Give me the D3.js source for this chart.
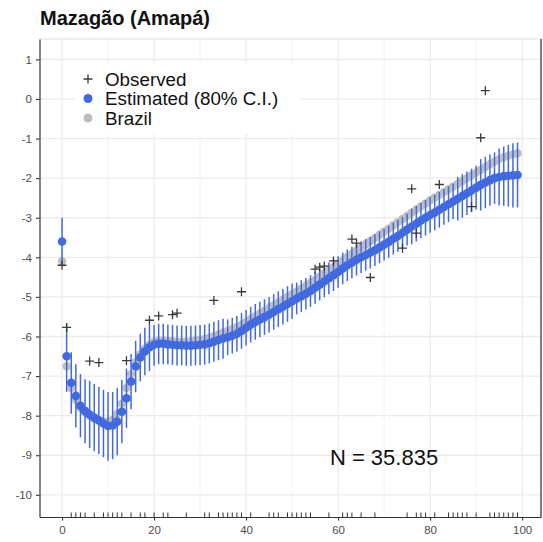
<!DOCTYPE html>
<html>
<head>
<meta charset="utf-8">
<script src="https://cdn.jsdelivr.net/npm/d3@7"></script>
<style>
  html, body { margin: 0; padding: 0; background: #fff; }
  svg { display: block; font-family: "Liberation Sans", Arial, Helvetica, sans-serif; }
</style>
</head>
<body>
<svg id="chart" width="543" height="542"></svg>
<script>
// ---------------- data ----------------
const title = "Mazagão (Amapá)";
const legendLabels = ["Observed", "Estimated (80% C.I.)", "Brazil"];
const annotation = "N = 35.835";

const xTicks = [0, 20, 40, 60, 80, 100];
const xMinorTicks = [10, 30, 50, 70, 90];
const yTicks = [1, 0, -1, -2, -3, -4, -5, -6, -7, -8, -9, -10];

const ages = d3.range(0, 100);

const estimated = [
  -3.60, -6.50, -7.17, -7.50, -7.75, -7.88, -7.97, -8.05, -8.12, -8.20,
  -8.26, -8.25, -8.15, -7.90, -7.56, -7.14, -6.76, -6.53, -6.38, -6.27,
  -6.21, -6.18, -6.18, -6.20, -6.21, -6.22, -6.22, -6.23, -6.23, -6.22,
  -6.21, -6.20, -6.17, -6.13, -6.09, -6.05, -6.02, -5.98, -5.93, -5.86,
  -5.78, -5.70, -5.63, -5.57, -5.51, -5.45, -5.38, -5.31, -5.25, -5.18,
  -5.11, -5.04, -4.98, -4.92, -4.85, -4.77, -4.69, -4.61, -4.53, -4.45,
  -4.37, -4.28, -4.20, -4.13, -4.06, -4.00, -3.94, -3.88, -3.82, -3.75,
  -3.68, -3.61, -3.53, -3.46, -3.38, -3.30, -3.22, -3.15, -3.07, -3.00,
  -2.93, -2.87, -2.80, -2.73, -2.66, -2.59, -2.52, -2.45, -2.38, -2.31,
  -2.24, -2.17, -2.11, -2.05, -2.00, -1.97, -1.95, -1.94, -1.93, -1.92
];

const estUpper = [
  -3.00, -5.70, -6.40, -6.70, -6.95, -7.08, -7.12, -7.20, -7.27, -7.35,
  -7.40, -7.40, -7.30, -7.10, -6.81, -6.44, -6.11, -5.93, -5.78, -5.70,
  -5.71, -5.68, -5.68, -5.70, -5.71, -5.72, -5.72, -5.73, -5.73, -5.72,
  -5.71, -5.70, -5.67, -5.63, -5.59, -5.55, -5.57, -5.53, -5.48, -5.41,
  -5.33, -5.25, -5.18, -5.12, -5.06, -5.00, -4.93, -4.86, -4.80, -4.73,
  -4.66, -4.64, -4.58, -4.52, -4.45, -4.37, -4.29, -4.21, -4.13, -4.05,
  -3.97, -3.88, -3.80, -3.73, -3.66, -3.60, -3.54, -3.48, -3.42, -3.35,
  -3.28, -3.21, -3.13, -3.06, -2.98, -2.90, -2.77, -2.70, -2.62, -2.55,
  -2.48, -2.42, -2.35, -2.28, -2.21, -2.14, -1.97, -1.90, -1.83, -1.76,
  -1.69, -1.52, -1.46, -1.40, -1.35, -1.25, -1.20, -1.16, -1.12, -1.10
];

const estLower = [
  -4.20, -7.40, -7.95, -8.30, -8.55, -8.70, -8.82, -8.90, -8.97, -9.05,
  -9.14, -9.10, -9.00, -8.70, -8.31, -7.84, -7.41, -7.13, -6.98, -6.87,
  -6.74, -6.70, -6.70, -6.71, -6.72, -6.73, -6.73, -6.74, -6.74, -6.73,
  -6.72, -6.71, -6.68, -6.64, -6.60, -6.56, -6.47, -6.43, -6.38, -6.31,
  -6.23, -6.15, -6.08, -6.02, -5.96, -5.90, -5.83, -5.76, -5.70, -5.63,
  -5.56, -5.44, -5.38, -5.32, -5.25, -5.17, -5.09, -5.01, -4.93, -4.85,
  -4.77, -4.68, -4.60, -4.53, -4.46, -4.40, -4.34, -4.28, -4.22, -4.15,
  -4.08, -4.01, -3.93, -3.86, -3.78, -3.70, -3.67, -3.60, -3.52, -3.45,
  -3.38, -3.32, -3.25, -3.18, -3.11, -3.04, -3.07, -3.00, -2.93, -2.86,
  -2.79, -2.82, -2.76, -2.70, -2.65, -2.69, -2.70, -2.72, -2.74, -2.74
];

const brazil = [
  -4.10, -6.75, -7.30, -7.60, -7.80, -7.92, -8.00, -8.07, -8.12, -8.15,
  -8.15, -8.10, -7.95, -7.70, -7.30, -6.95, -6.65, -6.45, -6.30, -6.20,
  -6.13, -6.10, -6.10, -6.11, -6.12, -6.13, -6.13, -6.13, -6.12, -6.10,
  -6.08, -6.06, -6.03, -5.99, -5.95, -5.90, -5.86, -5.81, -5.76, -5.70,
  -5.63, -5.56, -5.49, -5.42, -5.35, -5.28, -5.21, -5.14, -5.07, -5.00,
  -4.93, -4.86, -4.79, -4.72, -4.65, -4.57, -4.49, -4.41, -4.33, -4.25,
  -4.16, -4.08, -3.99, -3.91, -3.83, -3.75, -3.67, -3.59, -3.51, -3.43,
  -3.35, -3.27, -3.19, -3.11, -3.03, -2.95, -2.87, -2.79, -2.71, -2.64,
  -2.56, -2.49, -2.42, -2.35, -2.28, -2.21, -2.14, -2.07, -2.00, -1.93,
  -1.86, -1.79, -1.72, -1.65, -1.58, -1.52, -1.47, -1.43, -1.40, -1.37
];

const observedAges = [0, 1, 6, 8, 14, 19, 21, 24, 25, 33, 39, 55, 56, 57, 59, 63, 64, 67, 74, 76, 77, 82, 89, 91, 92];
const observedValues = [-4.20, -5.77, -6.62, -6.66, -6.61, -5.59, -5.48, -5.45, -5.41, -5.09, -4.87, -4.30, -4.25, -4.22, -4.09, -3.54, -3.64, -4.51, -3.77, -2.27, -3.39, -2.16, -2.72, -0.98, 0.21];

// ages with zero observed deaths (shown as rug)
const rugAges = [2, 3, 4, 5, 7, 9, 10, 11, 12, 13, 15, 17, 18, 20, 22, 23, 27, 31, 32, 34, 35, 36, 37, 38, 39, 41, 45, 46, 47, 49,
                 50, 51, 52, 53, 54, 58, 61, 62, 63, 65, 68, 75, 77, 78, 79, 81, 84, 85, 86, 87, 88, 90, 93, 94, 95, 96, 97, 98, 99];

// ---------------- drawing ----------------
const svg = d3.select("#chart");
const panel = { left: 39.5, right: 541, top: 39, bottom: 517 };

const x = d3.scaleLinear().domain([-4.9, 104.1]).range([panel.left, panel.right]);
const y = d3.scaleLinear().domain([-10.56, 1.515]).range([panel.bottom, panel.top]);

const blue = "#4169E1";
const grey = "#BEBEBE";

// grid
const grid = svg.append("g");
grid.selectAll("line.xminor").data(xMinorTicks).join("line")
  .attr("x1", d => x(d)).attr("x2", d => x(d))
  .attr("y1", panel.top).attr("y2", panel.bottom)
  .attr("stroke", "#F2F2F2").attr("stroke-width", 1);
grid.selectAll("line.xmajor").data(xTicks).join("line")
  .attr("x1", d => x(d)).attr("x2", d => x(d))
  .attr("y1", panel.top).attr("y2", panel.bottom)
  .attr("stroke", "#EBEBEB").attr("stroke-width", 1.3);
grid.selectAll("line.ymajor").data(yTicks).join("line")
  .attr("x1", panel.left).attr("x2", panel.right)
  .attr("y1", d => y(d)).attr("y2", d => y(d))
  .attr("stroke", "#EBEBEB").attr("stroke-width", 1.3);
// top border (light)
svg.append("line").attr("x1", panel.left).attr("x2", panel.right)
  .attr("y1", panel.top).attr("y2", panel.top)
  .attr("stroke", "#E0E0E0").attr("stroke-width", 1.2);

// Brazil points
svg.append("g").selectAll("circle").data(ages).join("circle")
  .attr("cx", d => x(d)).attr("cy", (d, i) => y(brazil[i]))
  .attr("r", 4.2).attr("fill", grey);

// estimated error bars
svg.append("g").selectAll("line").data(ages).join("line")
  .attr("x1", d => x(d)).attr("x2", d => x(d))
  .attr("y1", (d, i) => y(estUpper[i])).attr("y2", (d, i) => y(estLower[i]))
  .attr("stroke", blue).attr("stroke-width", 1.5);

// estimated points
svg.append("g").selectAll("circle").data(ages).join("circle")
  .attr("cx", d => x(d)).attr("cy", (d, i) => y(estimated[i]))
  .attr("r", 4.3).attr("fill", blue);

// observed crosses
svg.append("g").selectAll("path").data(observedAges).join("path")
  .attr("transform", (d, i) => `translate(${x(d)},${y(observedValues[i])})`)
  .attr("d", "M-4.5,0H4.5M0,-4.5V4.5")
  .attr("stroke", "#3a3a3a").attr("stroke-width", 1.3).attr("fill", "none");

// rug
svg.append("g").selectAll("line").data(rugAges).join("line")
  .attr("x1", d => x(d)).attr("x2", d => x(d))
  .attr("y1", panel.bottom - 4.5).attr("y2", panel.bottom)
  .attr("stroke", "#333").attr("stroke-width", 1);

// axes
const fmt = d => String(d);
const xAxis = svg.append("g").attr("transform", `translate(0,${panel.bottom})`)
  .call(d3.axisBottom(x).tickValues(xTicks).tickFormat(fmt).tickSize(3.5).tickSizeOuter(0).tickPadding(5));
const yAxis = svg.append("g").attr("transform", `translate(${panel.left},0)`)
  .call(d3.axisLeft(y).tickValues(yTicks).tickFormat(fmt).tickSize(3.5).tickSizeOuter(0).tickPadding(4));
[xAxis, yAxis].forEach(a => {
  a.select(".domain").attr("stroke", "#333").attr("stroke-width", 1.2);
  a.selectAll(".tick line").attr("stroke", "#333").attr("stroke-width", 1.1);
  a.selectAll(".tick text").attr("fill", "#4D4D4D").attr("font-size", 11.5)
    .attr("font-family", "Liberation Sans, Arial, sans-serif");
});
// right border
svg.append("line").attr("x1", panel.right).attr("x2", panel.right)
  .attr("y1", panel.top).attr("y2", panel.bottom)
  .attr("stroke", "#555").attr("stroke-width", 1.5);

// legend
const lg = svg.append("g");
lg.append("rect").attr("x", 75).attr("y", 64).attr("width", 225).attr("height", 70).attr("fill", "#fff");
const legendY = [79, 98.5, 118];
lg.append("path").attr("d", `M${88 - 4.5},${legendY[0]}H${88 + 4.5}M88,${legendY[0] - 4.5}V${legendY[0] + 4.5}`)
  .attr("stroke", "#3a3a3a").attr("stroke-width", 1.3);
lg.append("circle").attr("cx", 88).attr("cy", legendY[1]).attr("r", 4.5).attr("fill", blue);
lg.append("circle").attr("cx", 88).attr("cy", legendY[2]).attr("r", 4.5).attr("fill", grey);
lg.selectAll("text").data(legendLabels).join("text")
  .attr("x", 105).attr("y", (d, i) => legendY[i] + 6.5)
  .attr("font-size", 18.8).attr("fill", "#111").text(d => d);

// annotation
svg.append("text").attr("x", 384).attr("y", 465).attr("text-anchor", "middle")
  .attr("font-size", 22).attr("fill", "#111").text(annotation);

// title
svg.append("text").attr("x", 40).attr("y", 25).attr("font-size", 20).attr("font-weight", "bold")
  .attr("fill", "#111").text(title);
</script>
</body>
</html>
